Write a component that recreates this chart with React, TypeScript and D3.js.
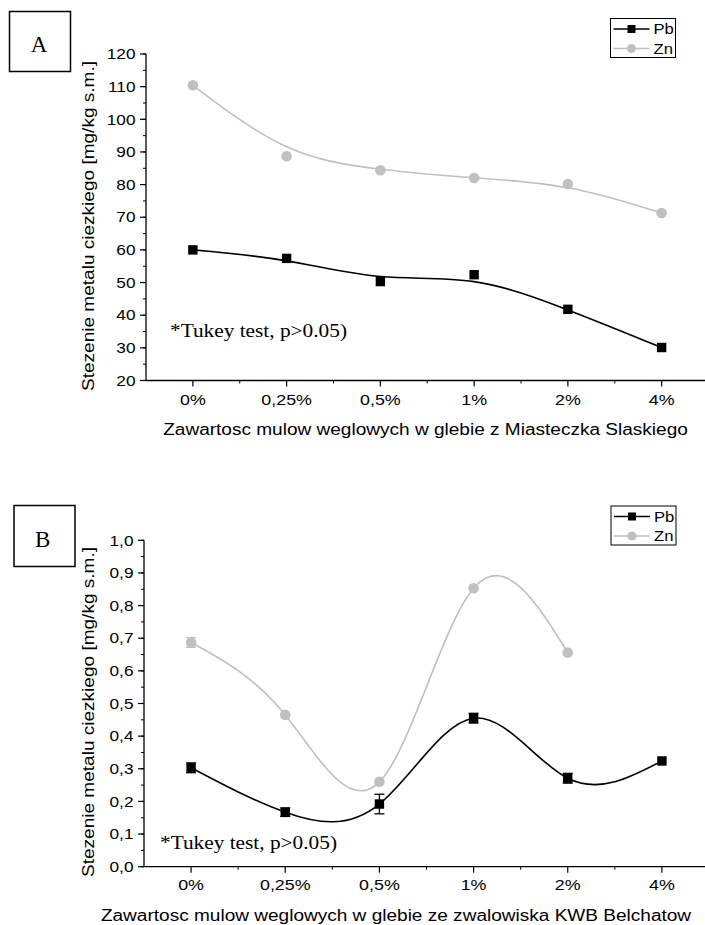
import React from 'react';
import * as d3 from 'd3';

const categories = ['0%', '0,25%', '0,5%', '1%', '2%', '4%'];

const pbA = [60.0, 57.4, 50.3, 52.4, 41.8, 30.1];
const znA = [110.4, 88.7, 84.4, 82.0, 80.2, 71.3];
const yTicksA = [20, 30, 40, 50, 60, 70, 80, 90, 100, 110, 120];

const pbB = [0.303, 0.167, 0.192, 0.455, 0.271, 0.324];
const pbBErr = [0.015, 0.013, 0.03, 0.015, 0.015, 0.004];
const znB = [0.687, 0.465, 0.26, 0.853, 0.656];
const znBErr = [0.015, 0.004, 0.004, 0.004, 0.004];
const yTicksB = [0, 0.1, 0.2, 0.3, 0.4, 0.5, 0.6, 0.7, 0.8, 0.9, 1.0];

const seriesNames = ['Pb', 'Zn'];
const yTitle = 'Stezenie metalu ciezkiego [mg/kg s.m.]';
const xTitleA = 'Zawartosc mulow weglowych w glebie z Miasteczka Slaskiego';
const xTitleB = 'Zawartosc mulow weglowych w glebie ze zwalowiska KWB Belchatow';
const noteText = '*Tukey test, p>0.05)';

const SANS = '"Liberation Sans", Arial, sans-serif';
const SERIF = '"Liberation Serif", "Times New Roman", serif';
const PB_COLOR = '#000000';
const ZN_COLOR = '#c0c0c0';
const SX = 1.19;

function SText(props: { x: number; y: number; rot?: number; anchor?: string; size: number; dy?: string; children: any; family?: string; sx?: number }) {
  const { x, y, rot = 0, anchor = 'start', size, dy, children, family = SANS, sx = SX } = props;
  return (
    <text transform={`translate(${x},${y}) rotate(${rot}) scale(${sx},1)`} textAnchor={anchor} dy={dy} fontFamily={family} fontSize={size} fill="black">
      {children}
    </text>
  );
}

type Series = { values: number[]; err?: number[]; color: string; marker: 'square' | 'circle' };

function Panel(props: {
  left: number; right: number; top: number; bottom: number;
  yDomain: [number, number]; yTicks: number[]; yMinorStep: number; fmt: (v: number) => string;
  series: Series[]; curve: any;
  boxLabel: string; box: [number, number, number, number]; boxText: [number, number];
  legend: [number, number, number, number];
  xTitle: string; xTitleX: number; xTitleY: number; tickLabelY: number;
  yTitleX: number; yTitleCenter: number;
  note: [number, number];
}) {
  const p = props;
  const x = d3.scaleLinear().domain([-0.5, 5.5]).range([p.left, p.right]);
  const y = d3.scaleLinear().domain(p.yDomain).range([p.bottom, p.top]);
  const minors = d3.range(p.yDomain[0], p.yDomain[1] + 1e-9, p.yMinorStep);
  const xMinors = d3.range(0.5, 5.5, 1);
  const [bx, by, bw, bh] = p.box;
  const [lx, ly, lw, lh] = p.legend;
  return (
    <g>
      <rect x={bx} y={by} width={bw} height={bh} fill="white" stroke="black" strokeWidth={1.5} />
      <text x={p.boxText[0]} y={p.boxText[1]} textAnchor="middle" fontFamily={SERIF} fontSize={23}>{p.boxLabel}</text>

      {p.series.map((s, si) => {
        const pts = s.values.map((v, i) => [x(i), y(v)] as [number, number]);
        const line = d3.line().curve(p.curve)(pts) || '';
        return (
          <g key={si}>
            <path d={line} fill="none" stroke={s.color} strokeWidth={1.6} />
            {s.err && s.values.map((v, i) => {
              const e = s.err![i];
              if (!e || e < 0.008) return null;
              const cx = x(i);
              return (
                <g key={'e' + i} stroke={s.color} strokeWidth={1.3}>
                  <line x1={cx} x2={cx} y1={y(v - e)} y2={y(v + e)} />
                  <line x1={cx - 5} x2={cx + 5} y1={y(v - e)} y2={y(v - e)} />
                  <line x1={cx - 5} x2={cx + 5} y1={y(v + e)} y2={y(v + e)} />
                </g>
              );
            })}
            {s.values.map((v, i) =>
              s.marker === 'square' ? (
                <rect key={i} x={x(i) - 4.7} y={y(v) - 4.7} width={9.4} height={9.4} fill={s.color} />
              ) : (
                <circle key={i} cx={x(i)} cy={y(v)} r={5.3} fill={s.color} />
              )
            )}
          </g>
        );
      })}

      <line x1={p.left} x2={p.left} y1={p.top} y2={p.bottom} stroke="black" strokeWidth={1.3} />
      {minors.map((t, i) => (
        <line key={'ym' + i} x1={p.left - 3} x2={p.left} y1={y(t)} y2={y(t)} stroke="black" strokeWidth={1} />
      ))}
      {p.yTicks.map((t, i) => (
        <g key={'yt' + i}>
          <line x1={p.left - 6} x2={p.left} y1={y(t)} y2={y(t)} stroke="black" strokeWidth={1.2} />
          <SText x={p.left - 10.5} y={y(t)} dy="0.36em" anchor="end" size={14.5}>{p.fmt(t)}</SText>
        </g>
      ))}

      <line x1={p.left} x2={p.right} y1={p.bottom} y2={p.bottom} stroke="black" strokeWidth={1.3} />
      {xMinors.map((t, i) => (
        <line key={'xm' + i} x1={x(t)} x2={x(t)} y1={p.bottom} y2={p.bottom + 3} stroke="black" strokeWidth={1} />
      ))}
      {categories.map((c, i) => (
        <g key={'xt' + i}>
          <line x1={x(i)} x2={x(i)} y1={p.bottom} y2={p.bottom + 6} stroke="black" strokeWidth={1.2} />
          <SText x={x(i)} y={p.tickLabelY} anchor="middle" size={15}>{c}</SText>
        </g>
      ))}

      <SText x={p.xTitleX} y={p.xTitleY} anchor="middle" size={16}>{p.xTitle}</SText>
      <SText x={p.yTitleX} y={p.yTitleCenter} rot={-90} anchor="middle" dy="0.35em" size={16}>{yTitle}</SText>
      <text x={p.note[0]} y={p.note[1]} fontFamily={SERIF} fontSize={19} textLength={177} lengthAdjust="spacingAndGlyphs">{noteText}</text>

      <rect x={lx} y={ly} width={lw} height={lh} fill="white" stroke="black" strokeWidth={1} />
      {p.series.map((s, si) => {
        const cy = ly + 10.5 + si * 19.5;
        return (
          <g key={'lg' + si}>
            <line x1={lx + 3} x2={lx + 39} y1={cy} y2={cy} stroke={s.color} strokeWidth={1.5} />
            {s.marker === 'square' ? (
              <rect x={lx + 21 - 4} y={cy - 4} width={8} height={8} fill={s.color} />
            ) : (
              <circle cx={lx + 21} cy={cy} r={4.5} fill={s.color} />
            )}
            <SText x={lx + 43} y={cy} dy="0.36em" size={14}>{seriesNames[si]}</SText>
          </g>
        );
      })}
    </g>
  );
}

export default function App() {
  return (
    <svg width={705} height={925} style={{ position: 'absolute', left: 0, top: 0, background: 'white' }}>
      <rect x={0} y={0} width={705} height={925} fill="white" />
      <Panel
        left={146} right={708.5} top={54} bottom={380.5}
        yDomain={[20, 120]} yTicks={yTicksA} yMinorStep={5} fmt={(v) => String(v)}
        series={[
          { values: pbA, color: PB_COLOR, marker: 'square' },
          { values: znA, color: ZN_COLOR, marker: 'circle' },
        ]}
        curve={d3.curveBasis}
        boxLabel="A" box={[9.5, 11.5, 61, 60]} boxText={[39, 51.7]}
        legend={[610.5, 18.5, 65, 39]}
        xTitle={xTitleA} xTitleX={425.5} xTitleY={435} tickLabelY={405}
        yTitleX={88} yTitleCenter={226}
        note={[170, 336.5]}
      />
      <Panel
        left={144} right={709} top={540.3} bottom={866.7}
        yDomain={[0, 1]} yTicks={yTicksB} yMinorStep={0.05} fmt={(v) => d3.format('.1f')(v).replace('.', ',')}
        series={[
          { values: pbB, err: pbBErr, color: PB_COLOR, marker: 'square' },
          { values: znB, err: znBErr, color: ZN_COLOR, marker: 'circle' },
        ]}
        curve={d3.curveNatural}
        boxLabel="B" box={[14, 505.5, 61, 61]} boxText={[42.7, 546.7]}
        legend={[611, 506, 65, 39]}
        xTitle={xTitleB} xTitleX={396} xTitleY={921} tickLabelY={890}
        yTitleX={88} yTitleCenter={712}
        note={[160, 848.5]}
      />
    </svg>
  );
}
